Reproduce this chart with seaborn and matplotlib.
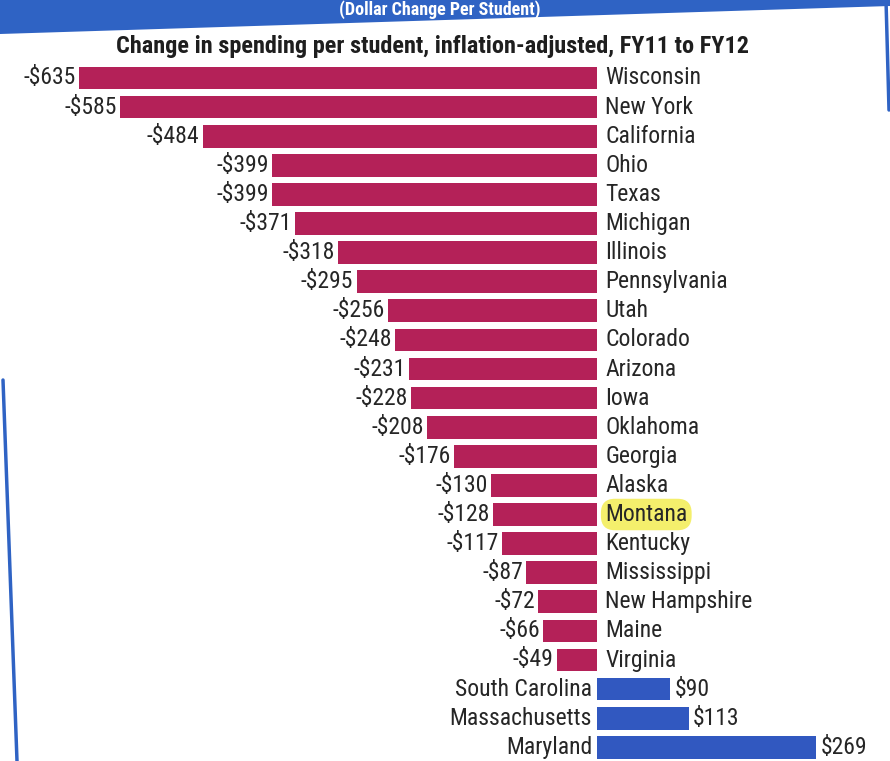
import matplotlib
matplotlib.use("Agg")
import matplotlib.pyplot as plt
from matplotlib.patches import Polygon
from matplotlib.lines import Line2D
import seaborn as sns
import pandas as pd

states = ["Wisconsin", "New York", "California", "Ohio", "Texas", "Michigan",
          "Illinois", "Pennsylvania", "Utah", "Colorado", "Arizona", "Iowa",
          "Oklahoma", "Georgia", "Alaska", "Montana", "Kentucky", "Mississippi",
          "New Hampshire", "Maine", "Virginia", "South Carolina",
          "Massachusetts", "Maryland"]
change = [-635, -585, -484, -399, -399, -371, -318, -295, -256, -248, -231,
          -228, -208, -176, -130, -128, -117, -87, -72, -66, -49, 90, 113, 269]
highlight = "Montana"
title = "Change in spending per student, inflation-adjusted, FY11 to FY12"
banner = "(Dollar Change Per Student)"

RED = "#B42158"
BLUE = "#3158C0"
FONT = ["Liberation Sans Narrow", "Roboto Condensed", "DejaVu Sans Condensed",
        "Roboto", "DejaVu Sans"]

df = pd.DataFrame({"state": states, "change": change})
df["sign"] = ["down" if v < 0 else "up" for v in change]

sns.set_theme(style="white")
plt.rcParams["font.family"] = FONT
plt.rcParams["font.stretch"] = "condensed"

W, H = 890, 761
fig = plt.figure(figsize=(W / 100, H / 100), dpi=100)
ax = fig.add_axes([0, 0, 1, 1])

sns.barplot(data=df, y="state", x="change", hue="sign", orient="h",
            palette={"down": RED, "up": BLUE}, width=0.78, dodge=False,
            saturation=1, legend=False, ax=ax, linewidth=0)

# pixel-aligned data window
px_per_unit = 0.815
zero_px = 597
row0_px, row_step = 78, 29.1
ax.set_xlim(-zero_px / px_per_unit, (W - zero_px) / px_per_unit)
ax.set_ylim((H - row0_px) / row_step, -row0_px / row_step)
ax.axis("off")

fs = 17
ink = "#262626"
for i, (s, v) in enumerate(zip(states, change)):
    if v < 0:
        ax.text(v - 4, i, f"-${abs(v)}", ha="right", va="center",
                fontsize=fs, color=ink)
        kw = {}
        if s == highlight:
            kw["bbox"] = dict(boxstyle="round,pad=0.18,rounding_size=0.6",
                              fc="#F4EF6C", ec="none")
        ax.text(10, i, s, ha="left", va="center", fontsize=fs,
                color=ink, **kw)
    else:
        ax.text(v + 5, i, f"${v}", ha="left", va="center",
                fontsize=fs, color=ink)
        ax.text(-6, i, s, ha="right", va="center", fontsize=fs, color=ink)

# header band, title and frame
fig.patches.append(Polygon([[0, 1], [1, 1], [1, 1 - 6 / H], [0, 1 - 34 / H]],
                           closed=True, transform=fig.transFigure,
                           facecolor="#2F63C4", edgecolor="none", zorder=0))
fig.text(440 / W, 1 - 10 / H, banner, ha="center", va="center",
         fontsize=13, color="white", fontweight="bold")
fig.text(433 / W, 1 - 47 / H, title, ha="center", va="center",
         fontsize=17.5, fontweight="bold", color="#1e1e1e")
fig.lines.append(Line2D([3 / W, 17 / W], [1 - 380 / H, 0],
                        transform=fig.transFigure, color="#2F63C4", lw=2.5))
fig.lines.append(Line2D([886 / W, 889 / W], [1, 1 - 110 / H],
                        transform=fig.transFigure, color="#2F63C4", lw=2.5))

fig.savefig("out.png", dpi=100)
